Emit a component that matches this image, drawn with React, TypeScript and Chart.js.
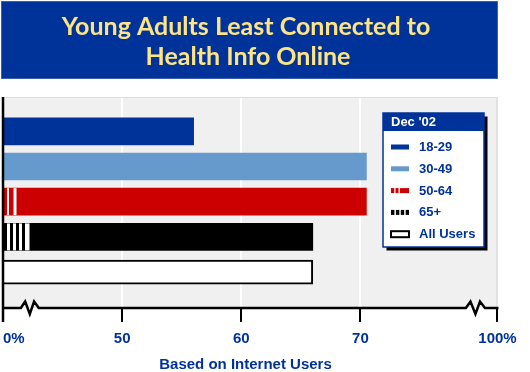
import React, { useEffect, useRef } from 'react';
import { Chart, registerables } from 'chart.js';

Chart.register(...registerables);

// ---------- data ----------
const TITLE_LINES = ['Young Adults Least Connected to', 'Health Info Online'];
const LEGEND_TITLE = "Dec '02";
const CATEGORIES = ['18-29', '30-49', '50-64', '65+', 'All Users'];
const VALUES = [56, 70.5, 70.5, 66, 66];
// broken axis: the scale runs 40..83.5, "0%" sits at 40 and "100%" at 81.5
const TICK_VALUES = [40, 50, 60, 70, 81.5];
const TICK_LABELS = ['0%', '50', '60', '70', '100%'];
const AXIS_TITLE = 'Based on Internet Users';

// ---------- styles ----------
const X_MIN = 40;
const X_MAX = 83.5;
const AXIS_END = 81.5;
const BREAKS = [
  [41.5, 43.0],
  [78.85, 80.45],
];
const BLUE = '#003399';
const LIGHT_BLUE = '#6699cc';
const RED = '#cc0000';
const YELLOW = '#ffe484';
const BAR_COLORS = [BLUE, LIGHT_BLUE, RED, '#000000', '#ffffff'];
const BAR_BORDER = ['#ffffff', LIGHT_BLUE, RED, '#000000', '#000000'];
const BAR_BORDER_W = [0, 0, 0, 0, 2];
const BAR_THICK = [27, 27, 27, 27, 24];
// white gaps (px from bar base) to mimic the striped start of some bars
const STRIPES: Record<number, number[][]> = {
  2: [
    [4, 6],
    [10.5, 13.5],
  ],
  3: [
    [4, 7],
    [10, 13],
    [16, 19],
    [22, 26.5],
  ],
};
const SANS = '"Liberation Sans", Arial, sans-serif';

function drawSwatch(ctx: CanvasRenderingContext2D, i: number, x: number, y: number) {
  const w = 18;
  const h = 5;
  const top = y - h / 2;
  if (i === 0 || i === 1) {
    ctx.fillStyle = BAR_COLORS[i];
    ctx.fillRect(x, top, w, h);
  } else if (i === 2) {
    ctx.fillStyle = RED;
    [[0, 3.3], [4.5, 7.5], [9, 18]].forEach(([a, b]) => ctx.fillRect(x + a, top, b - a, h));
  } else if (i === 3) {
    ctx.fillStyle = '#000';
    [[0, 3.4], [4.9, 8.3], [9.8, 13.2], [14.7, 18]].forEach(([a, b]) => ctx.fillRect(x + a, top, b - a, h));
  } else {
    ctx.fillStyle = '#fff';
    ctx.fillRect(x, top - 0.5, w, h + 1);
    ctx.strokeStyle = '#000';
    ctx.lineWidth = 2;
    ctx.strokeRect(x, top - 0.5, w, h + 1);
  }
}

const decorPlugin = {
  id: 'decor',
  beforeDraw(chart: any) {
    const { ctx, chartArea, scales } = chart;
    ctx.save();
    ctx.fillStyle = '#ffffff';
    ctx.fillRect(0, 0, chart.width, chart.height);
    // banner
    ctx.fillStyle = BLUE;
    ctx.fillRect(1, 1, 497, 78);
    ctx.strokeStyle = '#3d5fae';
    ctx.lineWidth = 1;
    ctx.strokeRect(1.5, 1.5, 496, 77);
    ctx.fillStyle = YELLOW;
    ctx.textAlign = 'center';
    ctx.textBaseline = 'alphabetic';
    ctx.font = 'bold 25px Lato, "Open Sans", sans-serif';
    ctx.fillText(TITLE_LINES[0], 246, 35);
    ctx.fillText(TITLE_LINES[1], 248, 65);
    // plot background
    const xr = scales.x.getPixelForValue(AXIS_END);
    ctx.fillStyle = '#f0f0f0';
    ctx.fillRect(chartArea.left, chartArea.top - 1, xr - chartArea.left, chartArea.bottom - chartArea.top + 1);
    ctx.strokeStyle = '#dedede';
    ctx.lineWidth = 1;
    ctx.beginPath();
    ctx.moveTo(chartArea.left, chartArea.top - 0.5);
    ctx.lineTo(xr, chartArea.top - 0.5);
    ctx.stroke();
    ctx.restore();
  },
  afterDatasetsDraw(chart: any) {
    const { ctx, scales } = chart;
    const base = scales.x.getPixelForValue(X_MIN);
    ctx.save();
    ctx.fillStyle = '#ffffff';
    Object.keys(STRIPES).forEach((k) => {
      const i = Number(k);
      const el = chart.getDatasetMeta(i).data[0];
      if (!el) return;
      const cy = el.y;
      const h = BAR_THICK[i];
      STRIPES[i].forEach(([a, b]) => ctx.fillRect(base + a, cy - h / 2, b - a, h));
    });
    ctx.restore();
  },
  afterDraw(chart: any) {
    const { ctx, chartArea, scales } = chart;
    const xs = scales.x;
    ctx.save();
    // left axis
    ctx.strokeStyle = '#000';
    ctx.lineWidth = 2.5;
    ctx.beginPath();
    ctx.moveTo(chartArea.left, chartArea.top - 1);
    ctx.lineTo(chartArea.left, chartArea.bottom + 14);
    ctx.stroke();
    // bottom axis with breaks
    const y = chartArea.bottom;
    ctx.lineJoin = 'miter';
    ctx.beginPath();
    ctx.moveTo(chartArea.left, y);
    BREAKS.forEach(([a, b]) => {
      const pa = xs.getPixelForValue(a);
      const pb = xs.getPixelForValue(b);
      const w = pb - pa;
      ctx.lineTo(pa, y);
      ctx.lineTo(pa + w * 0.24, y - 6.5);
      ctx.lineTo(pa + w * 0.5, y + 6);
      ctx.lineTo(pa + w * 0.74, y - 6.5);
      ctx.lineTo(pb, y);
    });
    ctx.lineTo(xs.getPixelForValue(AXIS_END) + 1, y);
    ctx.stroke();

    // legend
    const lx = 383;
    const ly = 113;
    const lw = 101;
    const lh = 134;
    ctx.fillStyle = '#000';
    ctx.fillRect(lx + 3.5, ly + 3.5, lw, lh);
    ctx.fillStyle = '#fff';
    ctx.fillRect(lx, ly, lw, lh);
    ctx.fillStyle = BLUE;
    ctx.fillRect(lx, ly, lw, 18);
    ctx.strokeStyle = BLUE;
    ctx.lineWidth = 1.5;
    ctx.strokeRect(lx, ly, lw, lh);
    ctx.fillStyle = '#fff';
    ctx.font = `bold 13px ${SANS}`;
    ctx.textAlign = 'left';
    ctx.textBaseline = 'middle';
    ctx.fillText(LEGEND_TITLE, 391, ly + 9.5);
    CATEGORIES.forEach((c, i) => {
      const ry = 147 + i * 21.8;
      drawSwatch(ctx, i, 391, ry);
      ctx.fillStyle = BLUE;
      ctx.font = `bold 13px ${SANS}`;
      ctx.fillText(c, 419, ry + 0.5);
    });
    ctx.restore();
  },
};

export default function App() {
  const ref = useRef<HTMLCanvasElement | null>(null);
  useEffect(() => {
    if (!ref.current) return;
    const chart = new Chart(ref.current, {
      type: 'bar',
      data: {
        datasets: CATEGORIES.map((c, i) => ({
          label: c,
          data: [{ x: VALUES[i], y: i }],
          backgroundColor: BAR_COLORS[i],
          borderColor: BAR_BORDER[i],
          borderWidth: BAR_BORDER_W[i],
          barThickness: BAR_THICK[i],
          grouped: false,
        })),
      },
      options: {
        responsive: false,
        animation: false,
        devicePixelRatio: 1,
        indexAxis: 'y',
        layout: { padding: { top: 98, left: 3, right: 8.7, bottom: 0 }, autoPadding: false },
        plugins: {
          legend: { display: false },
          tooltip: { enabled: false },
          title: { display: false },
        },
        scales: {
          x: {
            type: 'linear',
            min: X_MIN,
            max: X_MAX,
            position: 'bottom',
            afterBuildTicks: (s: any) => {
              s.ticks = TICK_VALUES.map((v) => ({ value: v })).concat([{ value: X_MAX }]);
            },
            border: { display: false },
            grid: {
              color: (ctx: any) => {
                const v = ctx.tick && ctx.tick.value;
                if (v === X_MIN || v === X_MAX) return 'rgba(0,0,0,0)';
                if (v === AXIS_END) return '#e2e2e2';
                return '#ffffff';
              },
              lineWidth: 2,
              tickColor: (ctx: any) => (ctx.tick && ctx.tick.value === X_MAX ? 'rgba(0,0,0,0)' : '#000000'),
              tickWidth: 2,
              tickLength: 14,
            },
            ticks: {
              align: 'inner',
              autoSkip: false,
              maxRotation: 0,
              padding: 3,
              color: BLUE,
              font: { family: SANS, size: 15, weight: 'bold', lineHeight: 1.8 },
              callback: (value: any) => {
                const idx = TICK_VALUES.indexOf(Number(value));
                return idx >= 0 ? TICK_LABELS[idx] : '';
              },
            },
            title: {
              display: true,
              // trailing spaces shift the centred title left, as in the original
              text: AXIS_TITLE + '        ',
              color: BLUE,
              font: { family: SANS, size: 15, weight: 'bold', lineHeight: 1 },
              padding: { top: 2, bottom: 0 },
            },
          },
          y: {
            type: 'linear',
            min: -0.946,
            max: 5.02,
            reverse: true,
            offset: false,
            display: false,
          },
        },
      },
      plugins: [decorPlugin],
    } as any);
    return () => chart.destroy();
  }, []);
  return (
    <div style={{ position: 'absolute', left: 0, top: 0, width: 530, height: 372 }}>
      <canvas ref={ref} width={530} height={372} />
    </div>
  );
}
